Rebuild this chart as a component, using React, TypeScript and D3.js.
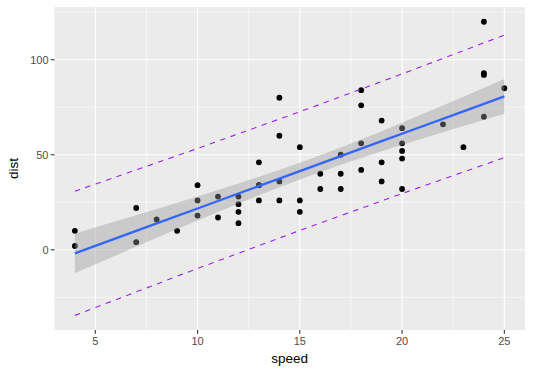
import React from "react";
import * as d3 from "d3";

const speed = [4, 4, 7, 7, 8, 9, 10, 10, 10, 11, 11, 12, 12, 12, 12, 13, 13, 13, 13, 14, 14, 14, 14, 15, 15, 15, 16, 16, 17, 17, 17, 18, 18, 18, 18, 19, 19, 19, 20, 20, 20, 20, 20, 22, 23, 24, 24, 24, 24, 25];
const dist = [2, 10, 4, 22, 16, 10, 18, 26, 34, 17, 28, 14, 20, 24, 28, 26, 34, 34, 46, 26, 36, 60, 80, 20, 26, 54, 32, 40, 32, 40, 50, 42, 56, 76, 84, 36, 46, 68, 32, 48, 52, 56, 64, 66, 54, 70, 92, 93, 120, 85];

// fitted line and 95% confidence band (geom_smooth, method = lm)
const bandX = [4, 6, 8, 10, 12, 14, 15.4, 17, 19, 21, 23, 25];
const fitY = [-1.85, 6.02, 13.88, 21.75, 29.61, 37.47, 42.98, 49.27, 57.14, 65.0, 72.87, 80.73];
const lowY = [-12.33, -2.97, 6.31, 15.46, 24.4, 32.95, 38.61, 44.7, 51.83, 58.59, 65.16, 71.6];
const highY = [8.63, 15.0, 21.45, 28.03, 34.82, 42.0, 47.35, 53.84, 62.44, 71.4, 80.58, 89.87];

// prediction interval (dashed lines)
const predX = [4, 10, 15.4, 20, 25];
const predLow = [-34.5, -9.81, 11.75, 29.6, 48.49];
const predHigh = [30.8, 53.3, 74.21, 92.54, 112.97];

const xTicks = [5, 10, 15, 20, 25];
const xMinor = [7.5, 12.5, 17.5, 22.5];
const yTicks = [0, 50, 100];
const yMinor = [-25, 25, 75, 125];

export default function App() {
  const W = 533, H = 375;
  const L = 54.5, R = 525, T = 7, B = 330;
  const x = d3.scaleLinear().domain([3.005, 26.01]).range([L, R]);
  const y = d3.scaleLinear().domain([-42.2, 127.75]).range([B, T]);

  const area = d3.area<number>()
    .x((_, i) => x(bandX[i]))
    .y0((_, i) => y(lowY[i]))
    .y1((_, i) => y(highY[i]))
    .curve(d3.curveLinear);
  const fitLine = d3.line<number>().x((_, i) => x(bandX[i])).y((d) => y(d));
  const predLine = d3.line<number>().x((_, i) => x(predX[i])).y((d) => y(d));

  const font = "'Liberation Sans', Arial, Helvetica, sans-serif";

  return (
    <svg width={W} height={H} style={{ position: "absolute", left: 0, top: 0, background: "#fff" }} fontFamily={font}>
      <rect x={L} y={T} width={R - L} height={B - T} fill="#EBEBEB" />
      {xMinor.map((v) => (
        <line key={"xm" + v} x1={x(v)} x2={x(v)} y1={T} y2={B} stroke="#fff" strokeWidth={0.55} />
      ))}
      {yMinor.map((v) => (
        <line key={"ym" + v} x1={L} x2={R} y1={y(v)} y2={y(v)} stroke="#fff" strokeWidth={0.55} />
      ))}
      {xTicks.map((v) => (
        <line key={"xg" + v} x1={x(v)} x2={x(v)} y1={T} y2={B} stroke="#fff" strokeWidth={1.1} />
      ))}
      {yTicks.map((v) => (
        <line key={"yg" + v} x1={L} x2={R} y1={y(v)} y2={y(v)} stroke="#fff" strokeWidth={1.1} />
      ))}

      {speed.map((s, i) => (
        <circle key={"p" + i} cx={x(s)} cy={y(dist[i])} r={2.9} fill="#000" />
      ))}

      <path d={area(bandX) || ""} fill="#999999" fillOpacity={0.4} />
      <path d={fitLine(fitY) || ""} fill="none" stroke="#3366FF" strokeWidth={2.3} />

      <path d={predLine(predLow) || ""} fill="none" stroke="#A020F0" strokeWidth={1.1} strokeDasharray="5.5,5.5" />
      <path d={predLine(predHigh) || ""} fill="none" stroke="#A020F0" strokeWidth={1.1} strokeDasharray="5.5,5.5" />

      {xTicks.map((v) => (
        <g key={"xt" + v}>
          <line x1={x(v)} x2={x(v)} y1={B} y2={B + 3.7} stroke="#333" strokeWidth={1.1} />
          <text x={x(v)} y={B + 15} textAnchor="middle" fontSize={11} fill="#4D4D4D">{v}</text>
        </g>
      ))}
      {yTicks.map((v) => (
        <g key={"yt" + v}>
          <line x1={L - 3.7} x2={L} y1={y(v)} y2={y(v)} stroke="#333" strokeWidth={1.1} />
          <text x={L - 6} y={y(v) + 4} textAnchor="end" fontSize={11} fill="#4D4D4D">{v}</text>
        </g>
      ))}
      <text x={(L + R) / 2} y={363} textAnchor="middle" fontSize={13.5} fill="#000">speed</text>
      <text transform={`translate(18, ${(T + B) / 2}) rotate(-90)`} textAnchor="middle" fontSize={13.5} fill="#000">dist</text>
    </svg>
  );
}
